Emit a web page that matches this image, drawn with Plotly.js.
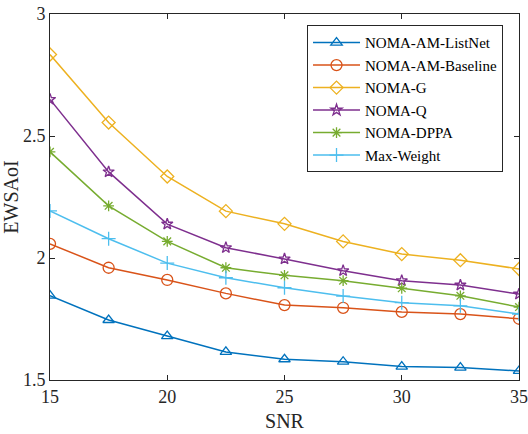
<!DOCTYPE html>
<html>
<head>
<meta charset="utf-8">
<script src="https://cdn.plot.ly/plotly-3.0.1.min.js"></script>
<style>html,body{margin:0;padding:0;background:#fff;}#chart{width:528px;height:434px;}</style>
</head>
<body>
<div id="chart"></div>
<script>
var snr = [15, 17.5, 20, 22.5, 25, 27.5, 30, 32.5, 35];
var listNet  = [1.846, 1.746, 1.680, 1.615, 1.585, 1.575, 1.555, 1.551, 1.537];
var baseline = [2.058, 1.960, 1.910, 1.855, 1.807, 1.796, 1.779, 1.770, 1.751];
var nomaG    = [2.834, 2.555, 2.334, 2.192, 2.140, 2.068, 2.016, 1.991, 1.955];
var nomaQ    = [2.650, 2.353, 2.139, 2.042, 1.996, 1.948, 1.907, 1.889, 1.852];
var nomaDPPA = [2.435, 2.214, 2.068, 1.960, 1.929, 1.907, 1.876, 1.845, 1.799];
var maxWeight= [2.193, 2.079, 1.979, 1.919, 1.878, 1.844, 1.817, 1.804, 1.770];

var names = ['NOMA-AM-ListNet','NOMA-AM-Baseline','NOMA-G','NOMA-Q','NOMA-DPPA','Max-Weight'];
var series = [listNet, baseline, nomaG, nomaQ, nomaDPPA, maxWeight];
var colors = ['#0072BD','#D95319','#EDB120','#7E2F8E','#77AC30','#4DBEEE'];
var symbols = ['triangle-up-open','circle-open','diamond-open','star-open','asterisk-open','cross-thin-open'];
var sizes = [10, 11, 10, 8.5, 9, 10];

var traces = series.map(function(s, i){
  return {
    x: snr, y: s, name: names[i], type: 'scatter', mode: 'lines+markers',
    line: {color: colors[i], width: 1.5},
    marker: {symbol: symbols[i], size: sizes[i], color: colors[i], line: {color: colors[i], width: 1.3}}
  };
});

var ff = 'Liberation Serif';
var layout = {
  width: 528, height: 434,
  margin: {l: 50, r: 9, t: 13.5, b: 54},
  paper_bgcolor: '#fff', plot_bgcolor: '#fff',
  font: {family: ff, size: 18, color: '#262626'},
  showlegend: true,
  xaxis: {
    range: [15, 35], tickvals: [15, 20, 25, 30, 35], ticktext: ['15','20','25','30','35'],
    ticks: 'inside', ticklen: 5, tickcolor: '#262626', showline: true, linecolor: '#262626', linewidth: 1,
    mirror: 'ticks', showgrid: false, zeroline: false,
    tickfont: {family: ff, size: 18, color: '#262626'},
    title: {text: 'SNR', font: {family: ff, size: 20, color: '#262626'}, standoff: 8}
  },
  yaxis: {
    range: [1.5, 3], tickvals: [1.5, 2, 2.5, 3], ticktext: ['1.5','2','2.5','3'],
    ticks: 'inside', ticklen: 5, tickcolor: '#262626', showline: true, linecolor: '#262626', linewidth: 1,
    mirror: 'ticks', showgrid: false, zeroline: false,
    tickfont: {family: ff, size: 18, color: '#262626'},
    title: {text: 'EWSAoI', font: {family: ff, size: 20, color: '#262626'}, standoff: 6}
  },
  legend: {
    x: 0.548, y: 0.969, xanchor: 'left', yanchor: 'top',
    bgcolor: '#fff', bordercolor: '#262626', borderwidth: 1,
    font: {family: ff, size: 15, color: '#000'},
    itemwidth: 47, tracegroupgap: 0
  }
};

Plotly.newPlot('chart', traces, layout, {displayModeBar: false, staticPlot: true});
</script>
</body>
</html>
